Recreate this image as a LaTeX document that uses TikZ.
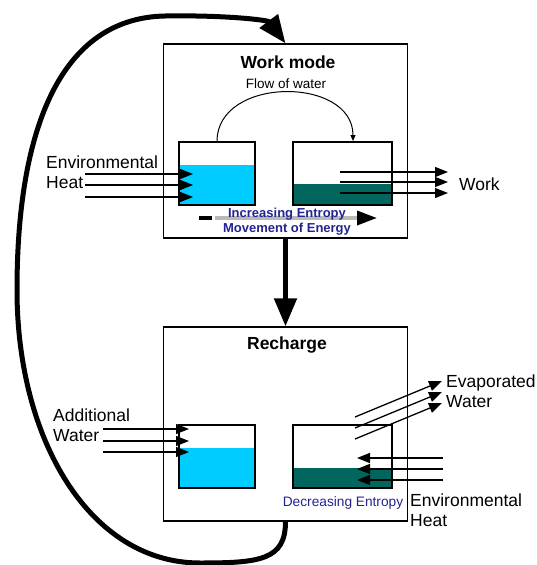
\documentclass[tikz,border=0pt]{standalone}
\usepackage{fontspec}
\setmainfont{Liberation Sans}
\usepackage{tikz}
\usetikzlibrary{arrows.meta,positioning,calc}
\definecolor{waterblue}{RGB}{0,204,255}
\definecolor{waterteal}{RGB}{0,102,94}
\definecolor{entropyblue}{RGB}{35,35,145}

\begin{document}
\begin{tikzpicture}[x=1pt,y=-1pt,
        modebox/.style={draw,line width=1.3pt,minimum width=244pt,minimum height=194pt},
        tank/.style={draw,line width=1.3pt,inner sep=0pt},
        modetitle/.style={font=\fontsize{17.5}{21}\selectfont\bfseries},
        lbl/.style={font=\fontsize{17.5}{20}\selectfont,align=left,inner sep=0pt,anchor=west},
        heatarrow/.style={line width=1.3pt,-{Triangle[length=13pt,width=10pt]}},
        bigarrow/.style={line width=5pt,-{Triangle[length=28pt,width=22pt]}},
        entropy/.style={font=\fontsize{13}{15}\selectfont\bfseries,text=entropyblue,align=center}]
        \useasboundingbox (0,0) rectangle (537,565);
        % draw mode boxes
        \node[modebox] (work) at (285.5,141) {};
        \node[modebox] (recharge) at (285.5,424) {};
        \node[modetitle] (worktitle) at (288,62) {Work mode};
        \node[modetitle] (rechargetitle) at (287,345) {Recharge};
        % draw water
        \fill[waterblue] (179,165) rectangle (255,205);
        \fill[waterteal] (293,184) rectangle (392,205);
        \fill[waterblue] (179,448) rectangle (255,488);
        \fill[waterteal] (293,468) rectangle (392,488);
        % draw tanks
        \node[tank,minimum width=76pt,minimum height=63pt] (wl) at (217,173.5) {};
        \node[tank,minimum width=99pt,minimum height=63pt] (wr) at (342.5,173.5) {};
        \node[tank,minimum width=76pt,minimum height=63pt] (rl) at (217,456.5) {};
        \node[tank,minimum width=99pt,minimum height=63pt] (rr) at (342.5,456.5) {};
        % flow of water
        \node[font=\fontsize{13.5}{16}\selectfont] (flow) at (286,84) {Flow of water};
        \coordinate (flowend) at (353,141);
        \draw[line width=1pt,-{Triangle[length=6pt,width=5pt]}] (wl.north) .. controls (217,76) and (353,76) .. (flowend);
        % labels
        \node[lbl] (envL) at (46,172) {Environmental\\Heat};
        \node[lbl] (worklbl) at (459,184) {Work};
        \node[lbl] (addL) at (53,425) {Additional\\Water};
        \node[lbl] (evapR) at (446,391) {Evaporated\\Water};
        \node[lbl] (envR) at (410,510) {Environmental\\Heat};
        % heat into left tank
        \foreach \i/\y in {1/174,2/185,3/197} {
          \coordinate (hs\i) at (85,\y);
          \coordinate (he\i) at (193,\y);
          \draw[heatarrow] (hs\i) -- (he\i);
        }
        % work out of right tank
        \foreach \i/\y in {1/172,2/182,3/193} {
          \coordinate (ws\i) at (340,\y);
          \coordinate (we\i) at (448,\y);
          \draw[heatarrow] (ws\i) -- (we\i);
        }
        % additional water
        \foreach \i/\y in {1/429,2/441,3/452} {
          \coordinate (as\i) at (103,\y);
          \coordinate (ae\i) at (189,\y);
          \draw[heatarrow] (as\i) -- (ae\i);
        }
        % evaporated water
        \foreach \i/\y in {1/417,2/428,3/439} {
          \coordinate (es\i) at (355,\y);
          \coordinate (ee\i) at (442,\y-36);
          \draw[heatarrow] (es\i) -- (ee\i);
        }
        % heat into right tank
        \foreach \i/\y in {1/458,2/469,3/480} {
          \coordinate (rs\i) at (443,\y);
          \coordinate (re\i) at (357,\y);
          \draw[heatarrow] (rs\i) -- (re\i);
        }
        % movement of energy
        \coordinate (dashL) at (199,218);
        \coordinate (dashR) at (212,218);
        \coordinate (moveL) at (215,218);
        \coordinate (moveR) at (377,218);
        \draw[line width=3.5pt] (dashL) -- (dashR);
        \draw[gray!55,line width=3.5pt,-{Triangle[length=20pt,width=14pt,color=black]}] (moveL) -- (moveR);
        \node[entropy] (incr) at (287,222) {Increasing Entropy\\Movement of Energy};
        \node[font=\fontsize{13.7}{16}\selectfont,text=entropyblue] (decr) at (343,503) {Decreasing Entropy};
        % cycle arrows
        \draw[bigarrow] (work.south) -- (recharge.north);
        \draw[bigarrow] (recharge.south) .. controls (285.5,560) and (260,563) .. (200,563)
          .. controls (90,563) and (17,440) .. (17,290)
          .. controls (17,130) and (60,18) .. (165,16)
          .. controls (225,15) and (268,20) .. (work.north);
\end{tikzpicture}
\end{document}
